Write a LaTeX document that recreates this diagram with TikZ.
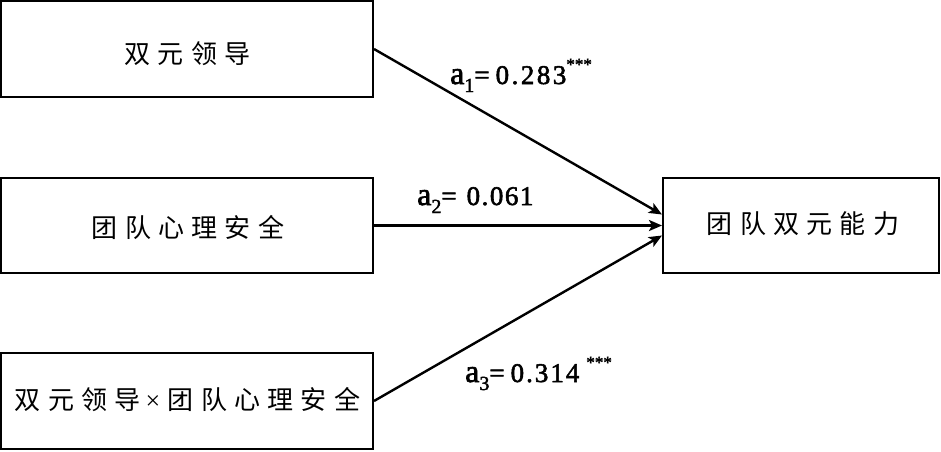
\documentclass[tikz,border=0pt]{standalone}
\usepackage{fontspec}
\setmainfont{Liberation Serif}
\newfontfamily\cjk{Noto Sans CJK SC}
\usetikzlibrary{arrows.meta}
\newcommand{\ks}{\hspace{7.3pt}}
\newcommand{\sbs}[1]{\raisebox{-8pt}{\fontsize{20}{20}\selectfont\addfontfeature{FakeBold=2}#1}}
\newcommand{\stars}{\raisebox{14pt}{\fontsize{17}{17}\selectfont\addfontfeature{FakeBold=2}***}}
\newcommand{\letA}{{\fontsize{32}{32}\selectfont\addfontfeature{FakeBold=2}a}}
\tikzset{
  box/.style={draw, line width=2pt, inner sep=0pt},
  boxtext/.style={inner sep=0pt, font=\cjk\fontsize{26}{30}\selectfont},
  conn/.style={line width=2.4pt, -{Stealth[length=13pt,width=11pt,inset=3pt]}},
  coef/.style={anchor=base west, inner sep=0pt, font=\rmfamily\fontsize{27}{30}\selectfont\addfontfeature{FakeBold=2}}
}
\begin{document}
\begin{tikzpicture}[x=1pt,y=-1pt]
\useasboundingbox (0,0) rectangle (941,451);
\node[box, minimum width=372pt, minimum height=96pt] (A) at (187,49) {};
\node[box, minimum width=372pt, minimum height=95pt] (B) at (187,225.5) {};
\node[box, minimum width=372pt, minimum height=96pt] (C) at (187,401) {};
\node[box, minimum width=276pt, minimum height=95pt] (D) at (801,225.5) {};
\node[boxtext] (tA) at (187.5,54) {双\ks{}元\ks{}领\ks{}导};
\node[boxtext] (tB) at (188,227) {团\ks{}队\ks{}心\ks{}理\ks{}安\ks{}全};
\node[boxtext] (tC) at (187.5,400) {双\ks{}元\ks{}领\ks{}导\hspace{5pt}{\rmfamily\fontsize{26}{30}\selectfont ×}\hspace{7.4pt}团\ks{}队\ks{}心\ks{}理\ks{}安\ks{}全};
\node[boxtext] (tD) at (803,223.5) {团\ks{}队\ks{}双\ks{}元\ks{}能\ks{}力};
\coordinate (D1) at ([yshift=11pt]D.west);
\coordinate (D3) at ([yshift=-10pt]D.west);
\draw[conn] (A.east) -- (D1);
\draw[conn] (B.east) -- (D.west);
\draw[conn] (C.east) -- (D3);
\node[coef] (L1) at (450,84) {\letA\sbs{1}=\hspace{6pt}0\hspace{2.5pt}.\hspace{2.5pt}2\hspace{2.5pt}8\hspace{2.5pt}3\stars};
\node[coef] (L2) at (417,205) {\letA\sbs{2}=\hspace{10pt}0\hspace{1.5pt}.\hspace{1.5pt}0\hspace{1.5pt}6\hspace{1.5pt}1};
\node[coef] (L3) at (465,382) {\letA\sbs{3}=\hspace{6pt}0\hspace{2pt}.\hspace{2pt}3\hspace{2pt}1\hspace{2pt}4\hspace{7pt}\stars};
\end{tikzpicture}
\end{document}
